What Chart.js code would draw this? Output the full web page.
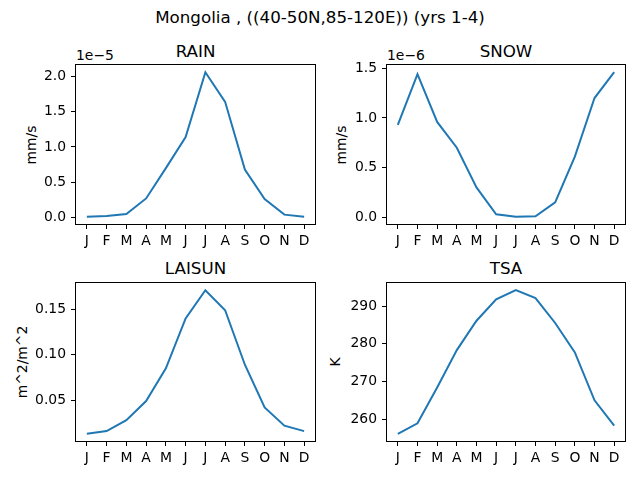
<!DOCTYPE html>
<html>
<head>
<meta charset="utf-8">
<script src="https://cdn.jsdelivr.net/npm/chart.js@4"></script>
<style>
  body { margin: 0; background: #fff; }
  #fig { position: relative; width: 640px; height: 480px; overflow: hidden; font-family: "DejaVu Sans", sans-serif; color: #000; }
  #fig canvas { position: absolute; }
  .txt { position: absolute; white-space: nowrap; line-height: 1; }
  .ttl { font-size: 16.7px; transform: translateX(-50%); }
  .off { font-size: 13.9px; }
  .ylab { font-size: 13.9px; transform: translate(-50%, -50%) rotate(-90deg); }
</style>
</head>
<body>
<div id="fig">
  <div class="txt ttl" style="left:320px; top:8.6px">Mongolia , ((40-50N,85-120E)) (yrs 1-4)</div>

  <div class="txt ttl" style="left:195.5px; top:42.6px">RAIN</div>
  <div class="txt ttl" style="left:506px; top:42.6px">SNOW</div>
  <div class="txt ttl" style="left:195.5px; top:260px">LAISUN</div>
  <div class="txt ttl" style="left:506px; top:260px">TSA</div>

  <div class="txt off" style="left:76px; top:49.2px">1e−5</div>
  <div class="txt off" style="left:387px; top:49.2px">1e−6</div>

  <div class="txt ylab" style="left:31.7px; top:144.5px">mm/s</div>
  <div class="txt ylab" style="left:341.7px; top:144.5px">mm/s</div>
  <div class="txt ylab" style="left:22.7px; top:362px">m^2/m^2</div>
  <div class="txt ylab" style="left:336px; top:362px">K</div>

  <canvas id="rainChart" width="320" height="200" style="left:0px; top:60px"></canvas>
  <canvas id="snowChart" width="320" height="200" style="left:320px; top:60px"></canvas>
  <canvas id="laiChart" width="320" height="200" style="left:0px; top:278px"></canvas>
  <canvas id="tsaChart" width="320" height="200" style="left:320px; top:278px"></canvas>
</div>
<script>
const months = ['J', 'F', 'M', 'A', 'M', 'J', 'J', 'A', 'S', 'O', 'N', 'D'];

// mm/s
const rain = [0.01e-5, 0.02e-5, 0.05e-5, 0.27e-5, 0.70e-5, 1.14e-5, 2.06e-5, 1.64e-5, 0.68e-5, 0.26e-5, 0.04e-5, 0.01e-5];
const snow = [0.93e-6, 1.44e-6, 0.96e-6, 0.70e-6, 0.30e-6, 0.03e-6, 0.005e-6, 0.01e-6, 0.15e-6, 0.61e-6, 1.20e-6, 1.46e-6];
// m^2/m^2
const laisun = [0.013, 0.016, 0.028, 0.049, 0.085, 0.140, 0.171, 0.149, 0.089, 0.042, 0.022, 0.016];
// K
const tsa = [256.1, 258.9, 268.4, 278.3, 286.1, 291.8, 294.2, 292.1, 285.5, 277.7, 265.0, 258.3];

const rainTicks = [0, 0.5e-5, 1.0e-5, 1.5e-5, 2.0e-5];
const snowTicks = [0, 0.5e-6, 1.0e-6, 1.5e-6];
const laiTicks = [0.05, 0.10, 0.15];
const tsaTicks = [260, 270, 280, 290];

// full frame around the plot area, like matplotlib spines
const frame = {
    id: 'frame',
    afterDraw(chart) {
        const a = chart.chartArea;
        const ctx = chart.ctx;
        ctx.save();
        ctx.strokeStyle = '#000';
        ctx.lineWidth = 1;
        ctx.strokeRect(a.left - 0.5, a.top - 0.5, a.right - a.left + 1, a.bottom - a.top + 1);
        ctx.restore();
    }
};

// keep the scales from pushing the plot area around
function noPad(s) {
    s.paddingTop = 0;
    s.paddingBottom = 0;
    s.paddingLeft = 0;
    s.paddingRight = 0;
}

function makePanel(id, canvasLeft, canvasTop, box, values, yTicks, fmt) {
    const lo = Math.min(...values), hi = Math.max(...values);
    const pad = (hi - lo) * 0.05;
    const tickFont = { family: 'DejaVu Sans', size: 13.9 };

    new Chart(document.getElementById(id), {
        type: 'line',
        data: {
            datasets: [{
                data: values.map((v, i) => ({ x: i, y: v })),
                borderColor: '#1f77b4',
                borderWidth: 2,
                pointRadius: 0,
                tension: 0,
                fill: false
            }]
        },
        options: {
            responsive: false,
            animation: false,
            events: [],
            layout: {
                padding: { left: 0, top: box.top - canvasTop, right: canvasLeft + 320 - box.right, bottom: 0 }
            },
            plugins: { legend: { display: false }, tooltip: { enabled: false } },
            scales: {
                x: {
                    type: 'linear',
                    min: -0.55,
                    max: 11.55,
                    border: { display: false },
                    grid: { drawOnChartArea: false, drawTicks: true, tickLength: 5, tickColor: '#000', lineWidth: 1 },
                    ticks: {
                        color: '#000', font: tickFont, padding: 4, maxRotation: 0, autoSkip: false,
                        callback: v => months[v]
                    },
                    afterBuildTicks: s => { s.ticks = months.map((m, i) => ({ value: i })); },
                    afterFit: s => { s.height = canvasTop + 200 - box.bottom; noPad(s); }
                },
                y: {
                    min: lo - pad,
                    max: hi + pad,
                    border: { display: false },
                    grid: { drawOnChartArea: false, drawTicks: true, tickLength: 5, tickColor: '#000', lineWidth: 1 },
                    ticks: { color: '#000', font: tickFont, padding: 5, callback: fmt },
                    afterBuildTicks: s => { s.ticks = yTicks.map(v => ({ value: v })); },
                    afterFit: s => { s.width = box.left - canvasLeft; noPad(s); }
                }
            }
        },
        plugins: [frame]
    });
}

makePanel('rainChart', 0, 60, { left: 76, right: 315, top: 65, bottom: 224 }, rain, rainTicks, v => (v / 1e-5).toFixed(1));
makePanel('snowChart', 320, 60, { left: 387, right: 625, top: 65, bottom: 224 }, snow, snowTicks, v => (v / 1e-6).toFixed(1));
makePanel('laiChart', 0, 278, { left: 76, right: 315, top: 283, bottom: 441 }, laisun, laiTicks, v => v.toFixed(2));
makePanel('tsaChart', 320, 278, { left: 387, right: 625, top: 283, bottom: 441 }, tsa, tsaTicks, v => v.toFixed(0));
</script>
</body>
</html>
